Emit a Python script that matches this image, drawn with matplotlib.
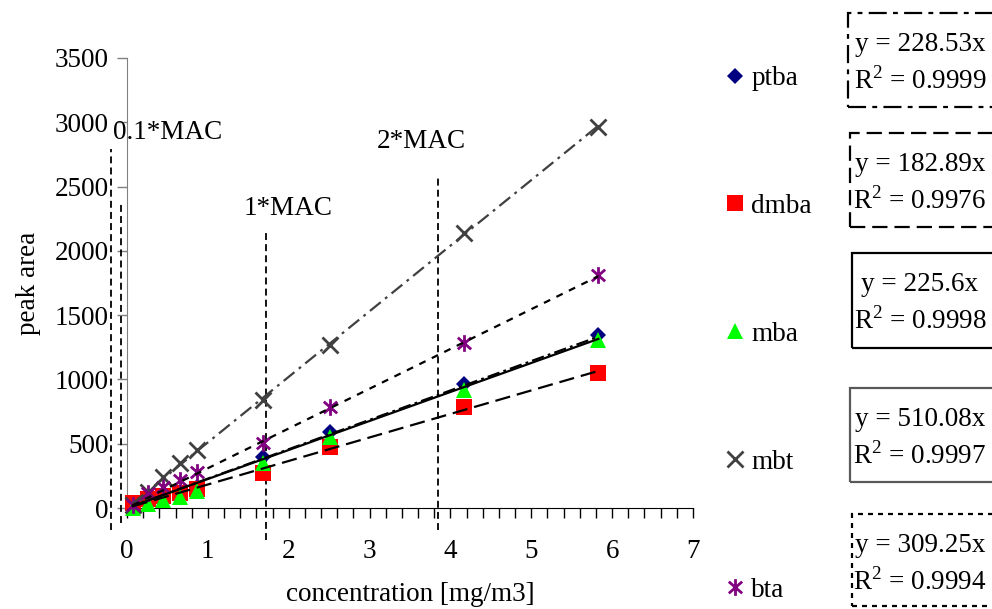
import matplotlib
matplotlib.use("Agg")
import matplotlib.pyplot as plt
import numpy as np
from matplotlib.lines import Line2D
from matplotlib.patches import Rectangle
from matplotlib.path import Path

plt.rcParams["font.family"] = ["Liberation Serif", "DejaVu Serif"]
plt.rcParams["font.size"] = 19.5
plt.rcParams["mathtext.fontset"] = "custom"
plt.rcParams["mathtext.rm"] = "Liberation Serif"
plt.rcParams["lines.scale_dashes"] = False

# concentration [mg/m3] and measured peak areas per compound
conc = [0.07, 0.26, 0.44, 0.65, 0.86, 1.68, 2.51, 4.17, 5.83]
ptba = [10, 45, 80, 115, 160, 399, 589, 965, 1343]
dmba = [39, 70, 96, 119, 145, 272, 477, 788, 1048]
mba = [2, 31, 62, 88, 130, 352, 555, 918, 1307]
mbt = [23, 127, 243, 350, 451, 840, 1268, 2137, 2966]
bta = [23, 114, 166, 218, 282, 503, 788, 1281, 1812]

names = ["ptba", "dmba", "mba", "mbt", "bta"]
slopes = [228.53, 182.89, 225.6, 510.08, 309.25]
r_squared = ["0.9999", "0.9976", "0.9998", "0.9997", "0.9994"]

# MAC reference lines: (x, y_top, y_bottom)
mac_lines = [(-0.2, 2790, -170), (-0.075, 2380, -115), (1.72, 2150, -250), (3.85, 2570, -170)]
mac_labels = [("0.1*MAC", -0.17, 2920), ("1*MAC", 1.99, 2330), ("2*MAC", 3.64, 2850)]

# excel-like star marker: vertical bar plus an x
star = Path([(0, -1), (0, 1), (-0.8, -0.7), (0.8, 0.7), (-0.8, 0.7), (0.8, -0.7)],
            [Path.MOVETO, Path.LINETO, Path.MOVETO, Path.LINETO, Path.MOVETO, Path.LINETO])

styles = [
    dict(marker="D", ms=8, color="#000080", mew=0),
    dict(marker="s", ms=12, color="#ff0000", mew=0),
    dict(marker="^", ms=12, color="#00ff00", mew=0),
    dict(marker="x", ms=11, color="#404040", mew=2),
    dict(marker=star, ms=12, color="#800080", mew=2),
]
trend_styles = [
    dict(color="black", ls=(0, (9, 3, 2, 3))),
    dict(color="black", ls=(0, (11, 5))),
    dict(color="black", ls="-"),
    dict(color="#404040", ls=(0, (10, 4, 2, 4))),
    dict(color="black", ls=(0, (5, 5))),
]

W, H = 992, 609
fig = plt.figure(figsize=(W / 100, H / 100), dpi=100)
ax = fig.add_axes([127 / W, 1 - 508 / H, 566 / W, 450 / H])

series = [ptba, dmba, mba, mbt, bta]
for vals, st in zip(series, styles):
    ax.plot(conc, vals, ls="none", zorder=3, clip_on=False, **st)

xfit = np.array([conc[0], conc[-1]])
for k, st in zip(slopes, trend_styles):
    ax.plot(xfit, k * xfit, lw=1.6, zorder=4, **st)

for x, y0, y1 in mac_lines:
    ax.plot([x, x], [y1, y0], color="black", lw=1.3, ls=(0, (5, 3)), clip_on=False, zorder=2)
for txt, x, y in mac_labels:
    ax.text(x, y, txt, ha="center" if x > 0 else "left", va="center", clip_on=False)

ax.set_xlim(0, 7)
ax.set_ylim(0, 3500)
ax.set_xticks(range(8))
ax.set_xticks(np.arange(0, 7.01, 0.2), minor=True)
ax.set_yticks(range(0, 3501, 500))
ax.tick_params(axis="x", which="both", direction="out", length=7, width=1, pad=15)
ax.tick_params(axis="y", direction="out", length=7, width=1, color="#808080", pad=6)
for side in ["top", "right"]:
    ax.spines[side].set_visible(False)
ax.spines["left"].set_color("#808080")
ax.spines["bottom"].set_color("black")

ax.set_xlabel("concentration [mg/m3]")
ax.set_ylabel("peak area")
ax.xaxis.set_label_coords(0.5, -0.165)
ax.yaxis.set_label_coords(-0.152, 0.5)

handles = [Line2D([], [], ls="none", **st) for st in styles]
fig.legend(handles, names, loc="upper left", bbox_to_anchor=(727 / W, 1 - 66 / H),
           frameon=False, borderpad=0, borderaxespad=0, handlelength=0.6,
           handletextpad=0.3, labelspacing=3.8)

# trendline equation boxes on the right edge
box_left = [848, 850, 852, 850, 852]
box_top = [13, 133, 253, 388, 514]
box_bottom = [107, 227, 348, 482, 606]
box_edge = ["black", "black", "black", "#595959", "black"]
box_ls = [(0, (13, 4.5, 3.5, 4.5)), (0, (11, 5)), "-", "-", (0, (3.6, 3.6))]
for i in range(5):
    l, t, b = box_left[i], box_top[i], box_bottom[i]
    fig.add_artist(Rectangle((l / W, 1 - b / H), (1100 - l) / W, (b - t) / H,
                             transform=fig.transFigure, fill=False,
                             ec=box_edge[i], lw=1.6, ls=box_ls[i]))
    fig.text(920 / W, 1 - (t + 38) / H, f"y = {slopes[i]}x", ha="center", va="baseline")
    fig.text(920 / W, 1 - (t + 76) / H, f"R$^2$ = {r_squared[i]}", ha="center", va="baseline")

fig.savefig("out.png", dpi=100)
